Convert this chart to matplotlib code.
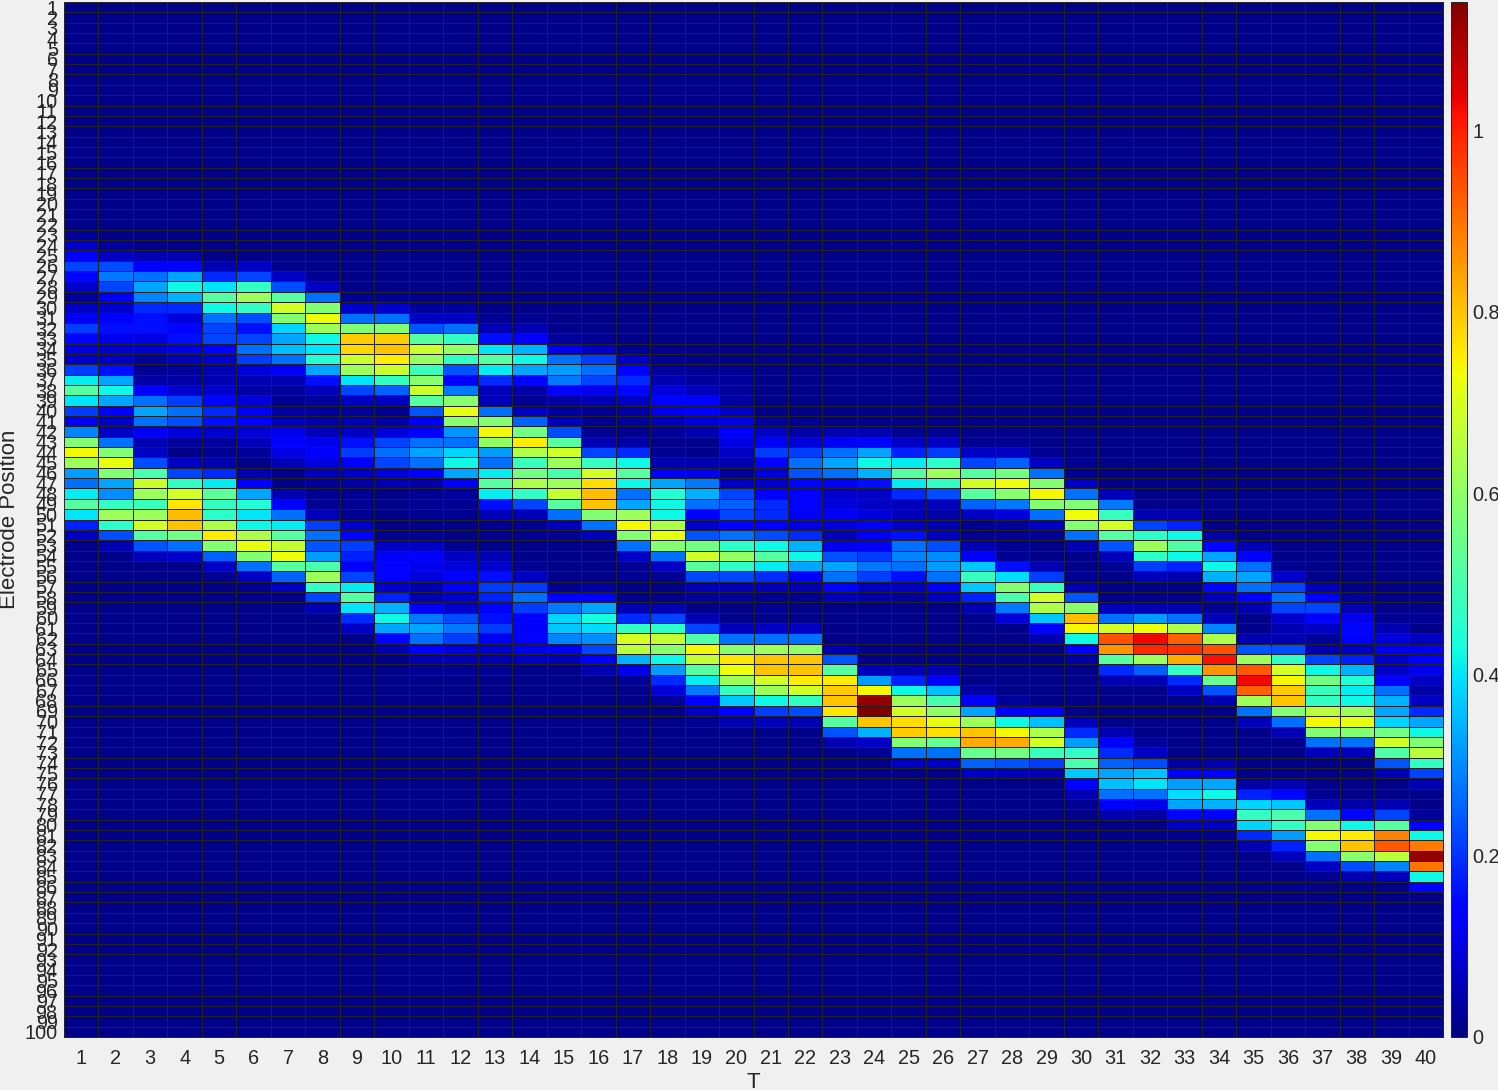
import numpy as np
import matplotlib
matplotlib.use("Agg")
import matplotlib.pyplot as plt

plt.rcParams['font.family'] = ['Liberation Sans', 'DejaVu Sans']

# Values in hundredths, keyed by electrode position; rows left out are background level (1)
BACKGROUND = 1
band_t01_10 = {
    23: [3,1,1,1,1,1,1,1,1,1],
    24: [8,3,1,1,1,1,1,1,1,1],
    25: [13,7,5,5,1,1,1,1,1,1],
    26: [22,23,13,15,5,7,1,1,1,1],
    27: [15,28,27,33,19,22,7,2,1,1],
    28: [8,22,33,42,40,47,23,7,1,1],
    29: [3,12,29,34,52,62,52,27,2,2],
    30: [7,8,19,19,42,47,69,58,8,8],
    31: [12,13,16,9,27,23,58,73,27,27],
    32: [21,16,16,15,22,16,38,62,58,58],
    33: [15,11,10,16,22,22,33,42,79,79],
    34: [9,8,8,10,13,27,36,40,78,80],
    35: [8,7,3,6,8,21,27,45,68,75],
    36: [21,16,2,3,5,9,12,33,62,68],
    37: [41,33,4,4,5,5,5,16,40,47],
    38: [52,42,13,8,8,4,3,6,22,25],
    39: [40,33,27,21,15,9,2,3,7,7],
    40: [21,13,33,27,19,12,4,3,3,2],
    41: [12,7,27,23,16,13,6,4,5,4],
    42: [29,7,12,9,8,9,11,6,7,9],
    43: [58,27,5,3,3,6,13,11,16,22],
    44: [74,58,7,1,2,3,10,13,21,27],
    45: [62,72,23,7,5,1,6,10,13,22],
    46: [32,58,50,22,19,5,1,6,7,9],
    47: [27,33,68,47,41,13,1,3,4,5],
    48: [41,30,62,69,53,33,5,2,2,1],
    49: [52,47,48,76,47,45,13,2,2,1],
    50: [40,62,62,81,46,40,27,6,2,1],
    51: [18,46,69,80,64,42,41,21,8,1],
    52: [7,23,52,56,75,64,52,27,15,2],
    53: [1,5,24,27,58,72,67,24,21,7],
    54: [1,1,6,8,25,58,73,32,18,12],
    55: [1,1,1,1,7,27,52,50,13,15],
    56: [1,1,1,1,2,7,25,62,22,13],
    57: [1,1,1,1,1,2,7,47,41,8],
    58: [1,1,1,1,1,1,1,22,52,18],
    59: [1,1,1,1,1,1,1,5,40,34],
    60: [1,1,1,1,1,1,1,1,19,42],
    61: [1,1,1,1,1,1,1,1,7,33],
    62: [1,1,1,1,1,1,1,1,1,15],
    63: [1,1,1,1,1,1,1,1,1,5],
}
band_t11_20 = {
    30: [3,3,1,1,1,1,1,1,1,1],
    31: [7,7,2,2,1,1,1,1,1,1],
    32: [24,27,5,5,1,1,1,1,1,1],
    33: [52,47,16,13,3,2,1,1,1,1],
    34: [68,61,40,34,11,7,2,1,1,1],
    35: [61,47,52,42,27,21,7,2,1,1],
    36: [48,24,41,33,32,27,13,3,2,2],
    37: [59,13,19,15,28,22,19,5,3,3],
    38: [68,28,6,4,13,11,15,9,6,3],
    39: [52,59,6,2,4,5,7,15,13,4],
    40: [24,72,27,7,3,2,4,11,13,7],
    41: [12,59,58,25,6,2,3,6,9,10],
    42: [13,31,74,56,23,2,2,3,5,13],
    43: [27,27,60,75,52,5,4,1,1,10],
    44: [33,38,32,64,69,22,19,2,1,7],
    45: [27,42,27,48,62,48,42,5,5,5],
    46: [13,33,41,56,50,69,52,12,11,3],
    47: [4,12,52,64,62,77,42,33,28,7],
    48: [2,3,41,47,67,81,27,45,34,22],
    49: [2,2,16,22,52,80,33,42,27,25],
    50: [2,2,6,6,27,58,62,42,13,22],
    51: [1,1,2,2,6,27,74,64,8,13],
    52: [2,1,2,2,2,6,58,72,24,27],
    53: [7,2,1,1,1,1,27,58,56,46],
    54: [13,7,5,1,1,1,7,27,69,61],
    55: [11,9,8,2,1,1,2,7,52,46],
    56: [9,13,16,7,1,1,2,2,22,22],
    57: [5,12,21,21,2,4,1,1,6,6],
    58: [5,8,18,27,15,13,1,1,3,3],
    59: [12,8,15,21,28,33,5,5,1,1],
    60: [28,23,16,13,38,43,19,22,5,1],
    61: [33,28,21,13,37,39,47,46,22,6],
    62: [27,21,12,13,29,30,70,67,51,27],
    63: [13,9,8,11,12,22,66,59,74,59],
    64: [5,5,5,7,6,12,34,42,67,76],
    65: [2,2,2,1,1,5,11,32,52,73],
    66: [1,1,1,1,1,1,2,19,41,62],
    67: [1,1,1,1,1,1,1,9,28,48],
    68: [1,1,1,1,1,1,1,3,13,37],
    69: [1,1,1,1,1,1,1,1,7,13],
    70: [1,1,1,1,1,1,1,1,2,5],
}
band_t21_30 = {
    41: [3,2,1,1,1,1,1,1,1,1],
    42: [7,4,5,5,2,2,1,1,1,1],
    43: [12,9,12,15,7,7,2,2,1,1],
    44: [21,21,27,33,18,21,7,7,2,1],
    45: [15,27,33,42,41,46,22,25,7,2],
    46: [9,24,27,34,52,62,52,56,27,2],
    47: [8,15,12,16,41,47,69,73,58,7],
    48: [13,13,8,7,19,23,52,59,74,27],
    49: [19,13,9,7,6,6,25,28,58,58],
    50: [19,12,12,9,6,4,7,9,27,73],
    51: [13,10,9,12,7,5,2,3,7,58],
    52: [23,19,6,12,16,7,2,2,3,27],
    53: [42,34,11,12,27,23,5,2,1,5],
    54: [52,42,24,21,29,30,13,2,1,1],
    55: [41,33,33,28,27,32,37,16,5,1],
    56: [19,13,27,21,16,27,48,39,21,2],
    57: [6,5,13,7,7,12,37,58,48,5],
    58: [2,2,6,4,3,7,18,50,69,24],
    59: [2,1,1,1,1,1,5,28,64,59],
    60: [1,1,1,1,1,1,1,9,37,81],
    61: [7,7,1,1,1,1,1,1,13,74],
    62: [27,27,1,1,1,1,1,1,5,42],
    63: [62,60,5,1,1,1,1,1,1,13],
    64: [80,80,24,1,1,1,1,1,1,4],
    65: [80,80,52,6,5,5,1,1,1,1],
    66: [69,75,75,32,18,13,1,1,1,1],
    67: [62,69,79,74,42,36,4,1,1,1],
    68: [42,47,80,112,62,50,13,3,1,1],
    69: [21,23,76,114,69,60,33,13,13,1],
    70: [6,5,52,80,77,72,62,42,36,6],
    71: [1,1,24,34,79,77,80,74,64,19],
    72: [1,1,5,7,58,54,83,83,69,32],
    73: [1,1,1,2,27,27,54,56,48,47],
    74: [1,1,1,1,7,7,25,24,21,50],
    75: [1,1,1,1,1,1,7,6,5,37],
    76: [1,1,1,1,1,1,1,1,1,15],
    77: [1,1,1,1,1,1,1,1,1,5],
    78: [1,1,1,1,1,1,1,1,1,2],
}
band_t31_40 = {
    48: [6,1,1,1,1,1,1,1,1,1],
    49: [28,1,1,1,1,1,1,1,1,1],
    50: [48,5,5,1,1,1,1,1,1,1],
    51: [69,22,18,1,1,1,1,1,1,1],
    52: [52,46,42,4,1,1,1,1,1,1],
    53: [24,62,51,15,5,1,1,1,1,1],
    54: [6,46,42,33,13,1,1,1,1,1],
    55: [2,21,18,42,27,2,1,1,1,1],
    56: [1,6,5,34,33,8,1,1,1,1],
    57: [1,1,1,15,27,22,6,1,1,1],
    58: [1,1,1,6,13,27,13,3,1,1],
    59: [6,5,5,2,5,22,22,5,1,1],
    60: [27,32,27,6,1,8,13,11,2,2],
    61: [69,73,64,29,1,5,7,15,5,1],
    62: [94,103,92,64,5,5,3,13,9,7],
    63: [86,99,98,94,24,23,5,7,11,11],
    64: [52,62,83,102,62,47,22,18,8,13],
    65: [19,25,47,86,93,69,42,34,7,11],
    66: [5,5,19,54,103,74,56,45,13,7],
    67: [1,1,7,24,92,79,48,41,27,4],
    68: [1,1,1,5,62,80,47,42,34,7],
    69: [1,1,1,1,27,58,66,62,33,19],
    70: [1,1,1,1,6,27,74,72,38,33],
    71: [5,1,1,1,1,5,58,58,56,42],
    72: [13,3,1,1,1,1,27,27,69,58],
    73: [19,7,1,1,1,1,6,6,51,66],
    74: [25,23,4,5,1,1,1,1,24,47],
    75: [33,36,12,13,1,1,1,1,6,22],
    76: [36,40,32,33,4,5,1,1,1,5],
    77: [27,27,39,42,18,15,2,1,1,1],
    78: [13,11,33,34,38,37,6,4,5,1],
    79: [5,4,15,13,47,50,27,15,22,3],
    80: [1,1,7,7,38,47,58,42,52,13],
    81: [1,1,2,2,19,32,74,75,88,42],
    82: [1,1,1,1,5,18,58,80,93,89],
    83: [1,1,1,1,1,6,27,59,66,112],
    84: [1,1,1,1,1,1,7,23,29,90],
    85: [1,1,1,1,1,1,2,5,6,42],
    86: [1,1,1,1,1,1,1,1,1,13],
}
t_labels = [str(i) for i in range(1, 41)]
position_labels = [str(i) for i in range(1, 101)]
colorbar_ticks = [0, 0.2, 0.4, 0.6, 0.8, 1]
colorbar_labels = ['0', '0.2', '0.4', '0.6', '0.8', '1']
COLOR_MAX = 1.142

table = np.full((len(position_labels), len(t_labels)), BACKGROUND, dtype=float)
for first_col, band in ((0, band_t01_10), (10, band_t11_20), (20, band_t21_30), (30, band_t31_40)):
    for row, vals in band.items():
        table[row - 1, first_col:first_col + 10] = vals
table /= 100.0

W, H = 1498, 1090
BG = '#f0f0f0'
INK = '#262626'
fig = plt.figure(figsize=(W / 100, H / 100), dpi=100, facecolor=BG)

def px_axes(l, t, r, b):
    return fig.add_axes([l / W, 1 - b / H, (r - l) / W, (b - t) / H])

ax = px_axes(64, 2, 1443, 1037)
xe = np.arange(len(t_labels) + 1)
ye = np.arange(len(position_labels) + 1)
mesh = ax.pcolormesh(xe, ye, table, cmap='jet', vmin=0, vmax=COLOR_MAX,
                     edgecolors='#222222', linewidth=0.72, antialiased=False)
ax.set_xlim(0, len(t_labels))
ax.set_ylim(len(position_labels), 0)
ax.set_xticks(xe[:-1] + 0.5, t_labels)
ax.set_yticks(ye[:-1] + 0.5, position_labels)
ax.tick_params(axis='x', length=0, labelsize=14.3, colors=INK, pad=8.5)
ax.tick_params(axis='y', length=0, labelsize=14.3, colors=INK, pad=4.5)
ax.set_xlabel('T', fontsize=16, color=INK)
ax.xaxis.set_label_coords(0.5, -0.0335)
ax.set_ylabel('Electrode Position', fontsize=16, color=INK)
ax.yaxis.set_label_coords(-0.032, 0.5)
for s in ax.spines.values():
    s.set_color(INK)
    s.set_linewidth(0.72)

cax = px_axes(1451, 2, 1467, 1037)
cb = fig.colorbar(mesh, cax=cax)
cb.set_ticks(colorbar_ticks, labels=colorbar_labels)
cb.ax.tick_params(length=0, labelsize=14.3, colors=INK, pad=4)
cb.outline.set_edgecolor(INK)
cb.outline.set_linewidth(0.72)

fig.savefig('out.png', dpi=100, facecolor=BG)
